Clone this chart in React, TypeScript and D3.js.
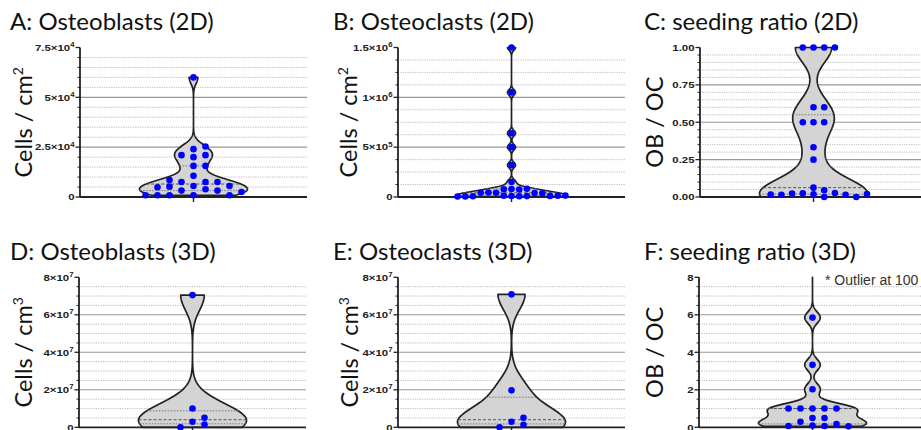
import React from 'react';
import * as d3 from 'd3';

// values (order = order the dots are placed in)
const osteoblasts2D = [60000, 24000, 25300, 21000, 21000, 20000, 15600, 15600, 10600, 7500, 7500, 7500, 8500,
  5500, 5500, 5200, 4900, 3900, 3200, 3200, 2500, 850, 850, 850, 850, 850];
const osteoclasts2D = [1500000, 1050000, 640000, 500000, 320000, 150000, 80000, 75000, 78000, 82000,
  43000, 40000, 45000, 38000, 42000, 10000, 12000, 8000, 9000, 11000, 7000, 13000, 6000, 14000, 5000];
const ratio2D = [1, 1, 1, 1, 0.6, 0.6, 0.5, 0.5, 0.5, 0.333, 0.25, 0.0625, 0.045, 0.025, 0.027, 0.018,
  0, 0.023, 0.015, 0.015, 0, 0.016, 0.02];
const osteoblasts3D = [70500000, 10000000, 3000000, 5100000, 1500000, 0];
const osteoclasts3D = [70900000, 19700000, 3000000, 5100000, 1400000, 0];
const ratio3D = [100, 5.85, 3.33, 2.03, 1, 1, 1, 1, 1, 0.5, 0.5, 0.3, 0.18, 0.1, 0.07, 0.07, 0.05];

const titles = ['A: Osteoblasts (2D)', 'B: Osteoclasts (2D)', 'C: seeding ratio (2D)',
  'D: Osteoblasts (3D)', 'E: Osteoclasts (3D)', 'F: seeding ratio (3D)'];

const ticksA = [0, 25000, 50000, 75000];
const tickLabelsA = ['0', '2.5×10^4', '5×10^4', '7.5×10^4'];
const ticksB = [0, 500000, 1000000, 1500000];
const tickLabelsB = ['0', '5×10^5', '1×10^6', '1.5×10^6'];
const ticksC = [0, 0.25, 0.5, 0.75, 1];
const tickLabelsC = ['0.00', '0.25', '0.50', '0.75', '1.00'];
const ticks3D = [0, 20000000, 40000000, 60000000, 80000000];
const tickLabels3D = ['0', '2×10^7', '4×10^7', '6×10^7', '8×10^7'];
const ticksF = [0, 2, 4, 6, 8];
const tickLabelsF = ['0', '2', '4', '6', '8'];

const row1 = { top: 47.5, bottom: 197, titleY: 30 };
const row2 = { top: 277.3, bottom: 427.3, titleY: 260 };

const panels = [
  { ...row1, title: titles[0], label: 'Cells / cm', sup: '2', values: osteoblasts2D, ticks: ticksA, tickLabels: tickLabelsA,
    max: 75000, minor: 5000, bw: 3000, step: 12, x: 80, titleX: 10, labelX: 32 },
  { ...row1, title: titles[1], label: 'Cells / cm', sup: '2', values: osteoclasts2D, ticks: ticksB, tickLabels: tickLabelsB,
    max: 1500000, minor: 125000, bw: 28000, step: 7.7, x: 398, titleX: 333, labelX: 357 },
  { ...row1, title: titles[2], label: 'OB / OC', sup: '', values: ratio2D, ticks: ticksC, tickLabels: tickLabelsC,
    max: 1, minor: 0.05, bw: 0.1, step: 10.7, x: 700, titleX: 644, labelX: 663 },
  { ...row2, title: titles[3], label: 'Cells / cm', sup: '3', values: osteoblasts3D, ticks: ticks3D, tickLabels: tickLabels3D,
    max: 80000000, minor: 5000000, bw: 8000000, step: 12, x: 79, titleX: 10, labelX: 32 },
  { ...row2, title: titles[4], label: 'Cells / cm', sup: '3', values: osteoclasts3D, ticks: ticks3D, tickLabels: tickLabels3D,
    max: 80000000, minor: 5000000, bw: 8000000, step: 12, x: 398, titleX: 333, labelX: 358 },
  { ...row2, title: titles[5], label: 'OB / OC', sup: '', values: ratio3D, ticks: ticksF, tickLabels: tickLabelsF,
    max: 8, minor: 0.5, bw: 0.3, step: 12, x: 699, titleX: 644, labelX: 663, note: '* Outlier at 100' },
];

const plotW = 227;
const halfMax = 54;
const titleFont = 'Lato, "Open Sans", sans-serif';
const tickFont = '"Liberation Sans", Arial, sans-serif';

function Panel({ p }: { p: any }) {
  const y = d3.scaleLinear().domain([0, p.max]).range([p.bottom, p.top]);
  const cx = p.x + plotW / 2;
  const right = p.x + plotW;
  const minorTicks = d3.range(0, p.max + p.minor / 2, p.minor)
    .filter((v) => !p.ticks.some((t: number) => Math.abs(t - v) < p.minor / 100));

  // kernel density, truncated at the smallest and largest value
  const dens = (v: number) => d3.sum(p.values as number[], (xi) => Math.exp(-0.5 * ((v - xi) / p.bw) ** 2));
  const lo = d3.min(p.values as number[])!;
  const hi = d3.max(p.values as number[])!;
  const pyLo = y(lo);
  const pyHi = Math.max(y(hi), p.top);
  const samples: number[] = [];
  for (let py = pyLo; py > pyHi; py -= 0.5) samples.push(y.invert(py));
  samples.push(y.invert(pyHi));
  const pts = samples.map((v) => ({ v, d: dens(v) }));
  const k = halfMax / d3.max(pts, (d) => d.d)!;
  const area = d3.area<{ v: number; d: number }>()
    .y((d) => y(d.v))
    .x0((d) => cx - d.d * k)
    .x1((d) => cx + d.d * k);

  const sorted = [...p.values].sort((a, b) => a - b);
  const q1 = d3.quantile(sorted, 0.25)!;
  const med = d3.quantile(sorted, 0.5)!;
  const q3 = d3.quantile(sorted, 0.75)!;

  // column scatter: take the nearest free column
  const order = [0, 1, -1, 2, -2, 3, -3, 4, -4, 5, -5, 6, -6, 7, -7, 8, -8, 9, -9];
  const placed: { col: number; py: number }[] = [];
  p.values.forEach((v: number) => {
    const py = y(v);
    if (py < p.top - 6) return;
    for (const c of order) {
      if (!placed.some((q) => q.col === c && Math.abs(q.py - py) < 6.5)) {
        placed.push({ col: c, py });
        break;
      }
    }
  });

  const midY = (p.top + p.bottom) / 2;

  return (
    <g>
      <text x={p.titleX} y={p.titleY} fontFamily={titleFont} fontSize={24} fill="#111">{p.title}</text>
      <text transform={`translate(${p.labelX},${midY}) rotate(-90)`} textAnchor="middle"
        fontFamily={titleFont} fontSize={23.5} fill="#111">
        <tspan>{p.label}</tspan>
        {p.sup && <tspan dy={-9} fontSize={14}>{p.sup}</tspan>}
      </text>

      {minorTicks.map((v) => (
        <line key={'m' + v} x1={p.x} x2={right} y1={y(v)} y2={y(v)} stroke="#aaa" strokeWidth={0.8} strokeDasharray="1.2,1.2" />
      ))}
      {p.ticks.filter((t: number) => t > 0 && t < p.max).map((t: number) => (
        <line key={'g' + t} x1={p.x} x2={right} y1={y(t)} y2={y(t)} stroke="#999" strokeWidth={1.1} />
      ))}

      <path d={area(pts)!} fill="#d4d4d4" stroke="#222" strokeWidth={1.7} strokeLinejoin="round" />
      {[q1, q3].filter((v) => v <= p.max).map((v, i) => (
        <line key={'q' + i} x1={cx - dens(v) * k} x2={cx + dens(v) * k} y1={y(v)} y2={y(v)}
          stroke="#777" strokeWidth={1} strokeDasharray="1.5,1.5" />
      ))}
      {med <= p.max && (
        <line x1={cx - dens(med) * k} x2={cx + dens(med) * k} y1={y(med)} y2={y(med)}
          stroke="#555" strokeWidth={1} strokeDasharray="3,2" />
      )}

      <line x1={p.x} x2={p.x} y1={p.top} y2={p.bottom} stroke="#222" strokeWidth={1.8} />
      <line x1={p.x} x2={right} y1={p.bottom} y2={p.bottom} stroke="#222" strokeWidth={1.8} />
      <line x1={cx} x2={cx} y1={p.bottom} y2={p.bottom + 5} stroke="#222" strokeWidth={1.4} />
      {minorTicks.map((v) => (
        <line key={'mt' + v} x1={p.x - 2.5} x2={p.x} y1={y(v)} y2={y(v)} stroke="#222" strokeWidth={1} />
      ))}
      {p.ticks.map((t: number, i: number) => {
        const [base, exp] = p.tickLabels[i].split('^');
        return (
          <g key={'t' + t}>
            <line x1={p.x - 4.5} x2={p.x} y1={y(t)} y2={y(t)} stroke="#222" strokeWidth={1.3} />
            <text transform={`translate(${p.x - 5.5},${y(t) + 3.3}) scale(1.2,1)`} textAnchor="end"
              fontFamily={tickFont} fontWeight="bold" fontSize={9.5} fill="#222">
              <tspan>{base}</tspan>
              {exp && <tspan dy={-3.8} fontSize={6.5}>{exp}</tspan>}
            </text>
          </g>
        );
      })}

      {placed.map((d, i) => (
        <circle key={'d' + i} cx={cx + d.col * p.step} cy={d.py} r={3.3} fill="#0000ff" />
      ))}

      {p.note && (
        <text x={p.x + 126} y={p.top + 8} fontFamily={tickFont} fontSize={14} fill="#333">{p.note}</text>
      )}
    </g>
  );
}

export default function App() {
  return (
    <svg width={921} height={430} style={{ position: 'absolute', left: 0, top: 0, background: '#fff' }}>
      <rect width={921} height={430} fill="#fff" />
      {panels.map((p, i) => <Panel key={i} p={p} />)}
    </svg>
  );
}
